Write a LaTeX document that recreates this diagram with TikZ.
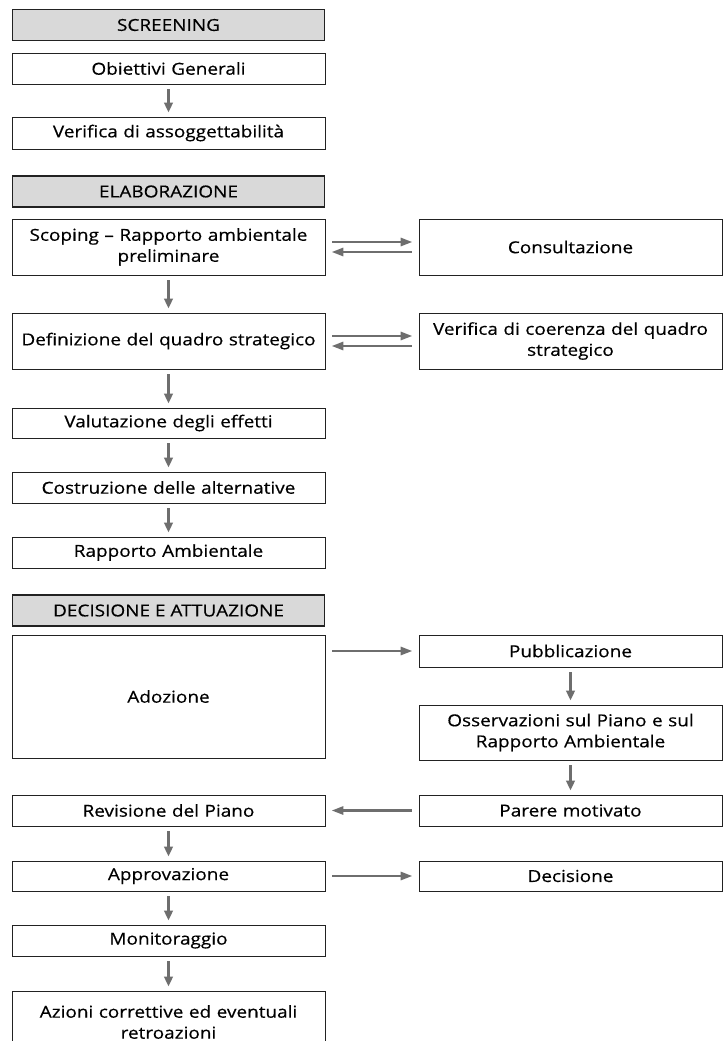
\documentclass[tikz,border=0pt]{standalone}
\usepackage{fontspec}
\setmainfont{Open Sans}[FakeStretch=1.15,FakeBold=0.4]
\usetikzlibrary{arrows.meta}
\definecolor{hdrfill}{HTML}{D9D9D9}
\definecolor{arrgray}{HTML}{6E6E6E}
\definecolor{boxline}{HTML}{222222}
\tikzset{
  base/.style={draw=boxline, line width=0.9pt, inner sep=2pt, align=center, font=\fontsize{16.5}{21}\selectfont, text=black},
  lbox/.style={base, minimum width=313pt, text width=305pt},
  rbox/.style={base, minimum width=303pt, text width=295pt},
  hdr/.style={base, line width=1.4pt, fill=hdrfill, minimum width=312pt, minimum height=31pt},
  arr/.style={draw=arrgray, line width=2.6pt, -{Triangle[length=10pt,width=8.5pt]}, shorten <=5pt, shorten >=4pt},
  harr/.style={draw=arrgray, line width=2.8pt, -{Triangle[length=12pt,width=8pt]}, shorten <=7pt, shorten >=6pt},
}
\begin{document}
\begin{tikzpicture}[x=1pt,y=-1pt]
\clip (0,0) rectangle (723,1041);
\fill[white] (0,0) rectangle (723,1041);
% headers
\node[hdr] (h1) at (168.5,25) {SCREENING};
\node[hdr] (h2) at (168.5,191.5) {ELABORAZIONE};
\node[hdr] (h3) at (168.5,610.5) {DECISIONE E ATTUAZIONE};
% left column
\node[lbox, minimum height=31pt] (n1) at (168.5,68.5) {Obiettivi Generali};
\node[lbox, minimum height=32pt] (n2) at (168.5,133) {Verifica di assoggettabilità};
\node[lbox, minimum height=56pt] (n3) at (168.5,247) {Scoping -- Rapporto ambientale\\preliminare};
\node[lbox, minimum height=56pt] (n4) at (168.5,341) {Definizione del quadro strategico};
\node[lbox, minimum height=30pt] (n5) at (168.5,423) {Valutazione degli effetti};
\node[lbox, minimum height=31pt] (n6) at (168.5,487.5) {Costruzione delle alternative};
\node[lbox, minimum height=31pt] (n7) at (168.5,552.5) {Rapporto Ambientale};
\node[lbox, minimum height=123pt] (n8) at (168.5,696.5) {Adozione};
\node[lbox, minimum height=31pt] (n9) at (168.5,810.5) {Revisione del Piano};
\node[lbox, minimum height=30pt] (n10) at (168.5,876) {Approvazione};
\node[lbox, minimum height=31pt] (n11) at (168.5,940.5) {Monitoraggio};
\node[lbox, minimum height=62pt] (n12) at (168.5,1022) {Azioni correttive ed eventuali\\retroazioni};
% right column
\node[rbox, minimum height=56pt] (r1) at (570.5,247) {Consultazione};
\node[rbox, minimum height=56pt] (r2) at (570.5,341) {Verifica di coerenza del quadro\\strategico};
\node[rbox, minimum height=32pt] (r3) at (570.5,651) {Pubblicazione};
\node[rbox, minimum height=55pt] (r4) at (570.5,732.5) {Osservazioni sul Piano e sul\\Rapporto Ambientale};
\node[rbox, minimum height=31pt] (r5) at (570.5,810.5) {Parere motivato};
\node[rbox, minimum height=30pt] (r6) at (570.5,876) {Decisione};
% vertical arrows
\draw[arr] (n1) -- (n2);
\draw[arr] (n3) -- (n4);
\draw[arr] (n4) -- (n5);
\draw[arr] (n5) -- (n6);
\draw[arr] (n6) -- (n7);
\draw[arr] (n9) -- (n10);
\draw[arr] (n10) -- (n11);
\draw[arr] (n11) -- (n12);
\draw[arr] (r3) -- (r4);
\draw[arr] (r4) -- (r5);
% horizontal arrows
\draw[harr] ([yshift=5pt]n3.east) -- ([yshift=5pt]r1.west);
\draw[harr] ([yshift=-5pt]r1.west) -- ([yshift=-5pt]n3.east);
\draw[harr] ([yshift=5pt]n4.east) -- ([yshift=5pt]r2.west);
\draw[harr] ([yshift=-5pt]r2.west) -- ([yshift=-5pt]n4.east);
\draw[harr] (r3.west -| n8.east) -- (r3.west);
\draw[harr] (r5) -- (n9);
\draw[harr] (n10) -- (r6);
\end{tikzpicture}
\end{document}
